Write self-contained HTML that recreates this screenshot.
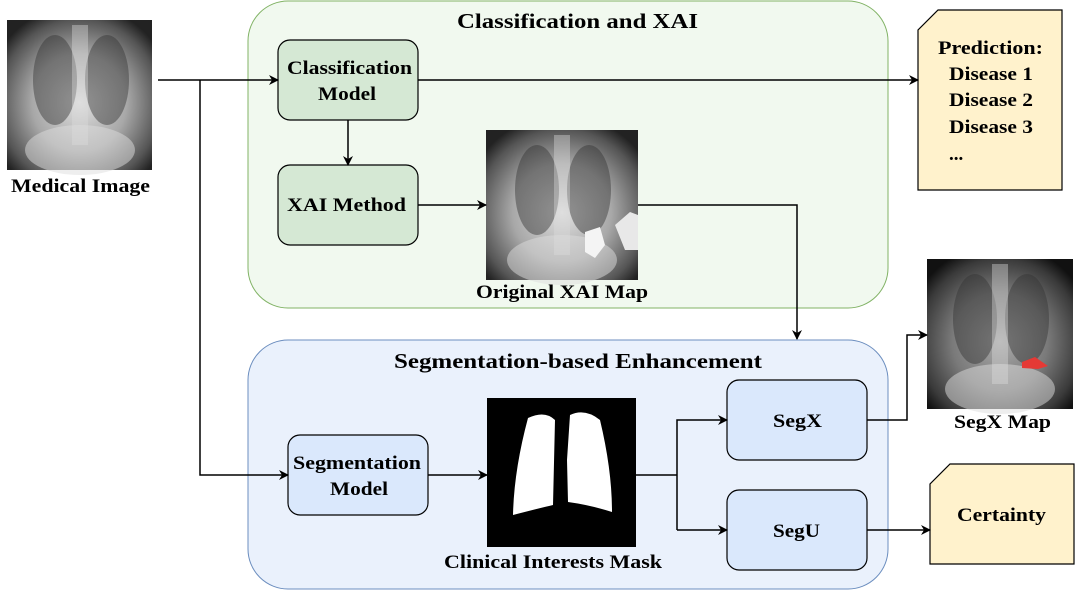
<!DOCTYPE html>
<html><head><meta charset="utf-8"><style>
html,body{margin:0;padding:0;background:#fff;}
svg{display:block;font-family:"Liberation Serif",serif;font-weight:bold;}
</style></head><body>
<svg width="1077" height="591" viewBox="0 0 1077 591" xmlns="http://www.w3.org/2000/svg">
<defs>
<marker id="a" markerWidth="10" markerHeight="10" refX="9" refY="5" orient="auto" markerUnits="userSpaceOnUse"><path d="M0,0 L10,5 L0,10 L3,5 Z" fill="#000"/></marker>
<radialGradient id="xr" cx="50%" cy="55%" r="65%"><stop offset="0" stop-color="#e0e0e0"/><stop offset="0.5" stop-color="#a8a8a8"/><stop offset="0.85" stop-color="#555"/><stop offset="1" stop-color="#222"/></radialGradient>
<radialGradient id="xr2" cx="50%" cy="55%" r="65%"><stop offset="0" stop-color="#aaa"/><stop offset="0.5" stop-color="#7a7a7a"/><stop offset="0.85" stop-color="#3a3a3a"/><stop offset="1" stop-color="#111"/></radialGradient>
<g id="lungs"><ellipse cx="-25" cy="-15" rx="22" ry="45" fill="#333" opacity="0.45"/><ellipse cx="27" cy="-15" rx="22" ry="45" fill="#333" opacity="0.45"/><rect x="-8" y="-70" width="16" height="120" fill="#ddd" opacity="0.4"/><ellipse cx="0" cy="55" rx="55" ry="25" fill="#ddd" opacity="0.5"/></g>
</defs>
<rect x="248" y="1" width="640" height="307" rx="40" fill="#f1f9ef" stroke="#82b366"/>
<rect x="248" y="340" width="640" height="249" rx="40" fill="#eaf1fc" stroke="#6c8ebf"/>
<g font-size="21" lengthAdjust="spacingAndGlyphs">
<text x="457" y="28" textLength="241" lengthAdjust="spacingAndGlyphs">Classification and XAI</text>
<text x="394" y="368" textLength="368" lengthAdjust="spacingAndGlyphs">Segmentation-based Enhancement</text>
</g>
<!-- images -->
<rect x="7" y="20" width="145" height="150" fill="url(#xr)"/><use href="#lungs" x="80" y="95"/>
<rect x="486" y="130" width="152" height="150" fill="url(#xr)"/><use href="#lungs" x="562" y="205"/>
<path d="M585,232 L600,227 L605,245 L595,258 L585,252 Z" fill="#f4f4f4"/><path d="M615,225 L630,212 L638,215 L638,250 L625,250 Z" fill="#e8e8e8"/>
<rect x="927" y="259" width="146" height="150" fill="url(#xr2)"/><use href="#lungs" x="1000" y="334"/>
<path d="M1022,362 L1035,357 L1048,366 L1038,369 L1022,368 Z" fill="#e53935"/>
<rect x="487" y="398" width="149" height="149" fill="#000"/>
<path d="M528,418 Q545,410 555,420 L553,505 Q540,508 513,515 Q514,470 528,418 Z" fill="#fff"/>
<path d="M570,415 Q585,408 600,420 Q612,470 612,512 Q590,505 568,502 L567,460 Z" fill="#fff"/>
<!-- boxes -->
<g stroke="#000" stroke-width="1.2">
<rect x="278" y="40" width="140" height="80" rx="12" fill="#d5e8d4"/>
<rect x="278" y="165" width="140" height="80" rx="12" fill="#d5e8d4"/>
<rect x="288" y="435" width="140" height="80" rx="12" fill="#dae8fc"/>
<rect x="727" y="380" width="140" height="80" rx="12" fill="#dae8fc"/>
<rect x="727" y="490" width="140" height="80" rx="12" fill="#dae8fc"/>
<path d="M938,10 L1062,10 L1062,190 L918,190 L918,30 Z" fill="#fff2cc"/>
<path d="M950,464 L1074,464 L1074,564 L930,564 L930,484 Z" fill="#fff2cc"/>
</g>
<g font-size="19">
<text x="11" y="192" textLength="139" lengthAdjust="spacingAndGlyphs">Medical Image</text>
<text x="476" y="298" textLength="172" lengthAdjust="spacingAndGlyphs">Original XAI Map</text>
<text x="954" y="428" textLength="97" lengthAdjust="spacingAndGlyphs">SegX Map</text>
<text x="444" y="568" textLength="218" lengthAdjust="spacingAndGlyphs">Clinical Interests Mask</text>
<text x="287" y="74" textLength="125" lengthAdjust="spacingAndGlyphs">Classification</text>
<text x="318" y="100" textLength="58" lengthAdjust="spacingAndGlyphs">Model</text>
<text x="287" y="211" textLength="119" lengthAdjust="spacingAndGlyphs">XAI Method</text>
<text x="293" y="469" textLength="128" lengthAdjust="spacingAndGlyphs">Segmentation</text>
<text x="330" y="495" textLength="58" lengthAdjust="spacingAndGlyphs">Model</text>
<text x="773" y="427" textLength="49" lengthAdjust="spacingAndGlyphs">SegX</text>
<text x="773" y="537" textLength="47" lengthAdjust="spacingAndGlyphs">SegU</text>
<text x="957" y="521" textLength="89" lengthAdjust="spacingAndGlyphs">Certainty</text>
<text x="938" y="54" textLength="105" lengthAdjust="spacingAndGlyphs">Prediction:</text>
<text x="949" y="80" textLength="84" lengthAdjust="spacingAndGlyphs">Disease 1</text>
<text x="949" y="106" textLength="84" lengthAdjust="spacingAndGlyphs">Disease 2</text>
<text x="949" y="133" textLength="84" lengthAdjust="spacingAndGlyphs">Disease 3</text>
<text x="949" y="160">...</text>
</g>
<!-- connectors -->
<g stroke="#000" stroke-width="1.5" fill="none">
<path d="M158,80 L278,80" marker-end="url(#a)"/>
<path d="M200,80 L200,475 L288,475" marker-end="url(#a)"/>
<path d="M348,120 L348,165" marker-end="url(#a)"/>
<path d="M418,80 L918,80" marker-end="url(#a)"/>
<path d="M418,205 L486,205" marker-end="url(#a)"/>
<path d="M638,205 L797,205 L797,339" marker-end="url(#a)"/>
<path d="M428,475 L487,475" marker-end="url(#a)"/>
<path d="M636,475 L677,475"/>
<path d="M677,530 L677,420 L727,420" marker-end="url(#a)"/>
<path d="M677,530 L727,530" marker-end="url(#a)"/>
<path d="M867,420 L907,420 L907,335 L927,335" marker-end="url(#a)"/>
<path d="M867,530 L930,530" marker-end="url(#a)"/>
</g>
</svg>
</body></html>
